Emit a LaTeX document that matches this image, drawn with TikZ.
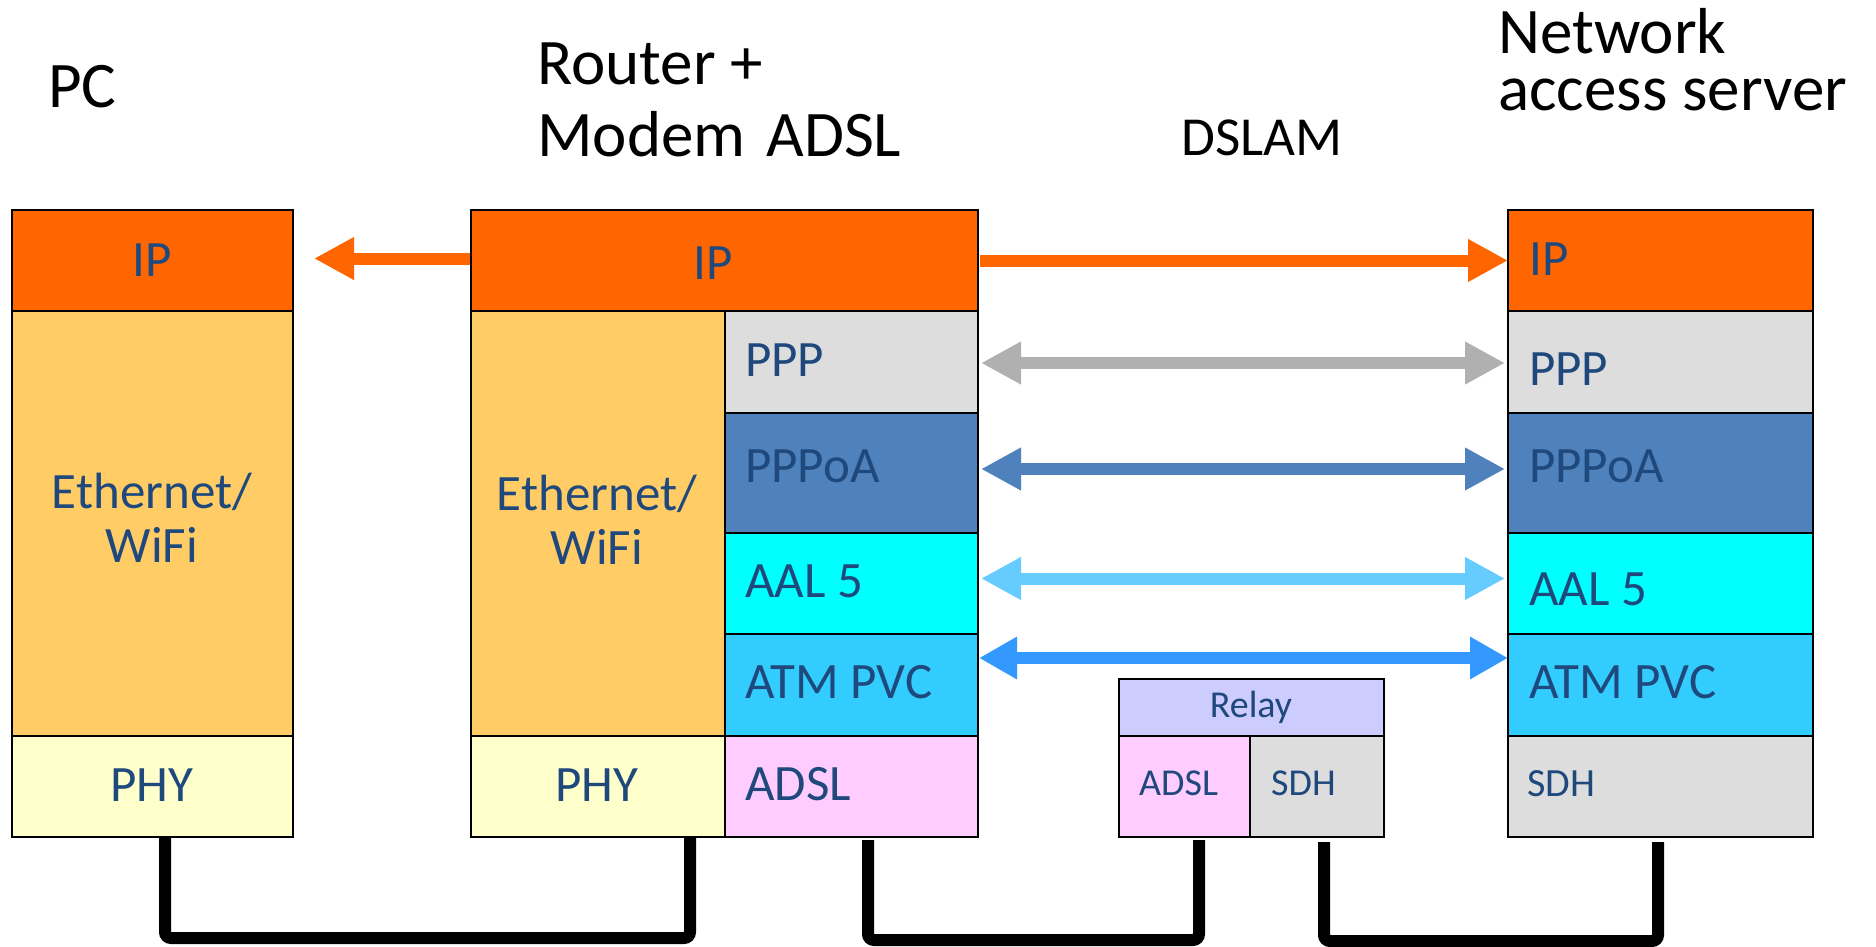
\documentclass[tikz,border=0pt]{standalone}
\usepackage{fontspec}
\setmainfont{Carlito}
\usetikzlibrary{arrows.meta,calc}
\definecolor{ipor}{HTML}{FF6600}
\definecolor{ethc}{HTML}{FFCC66}
\definecolor{phyc}{HTML}{FFFFCC}
\definecolor{pppc}{HTML}{DDDDDD}
\definecolor{pppoac}{HTML}{4F81BD}
\definecolor{aalc}{HTML}{00FFFF}
\definecolor{atmc}{HTML}{33CCFF}
\definecolor{adslc}{HTML}{FFCCFF}
\definecolor{relayc}{HTML}{CCCCFF}
\definecolor{lblue}{HTML}{1F497D}
\definecolor{grayarr}{HTML}{B0B0B0}
\definecolor{aalarr}{HTML}{66CCFF}
\definecolor{atmarr}{HTML}{3399FF}
\begin{document}
\begin{tikzpicture}[x=1pt,y=-1pt,
  layer/.style={draw=black, line width=2.5pt, outer sep=0pt, inner sep=0pt, anchor=north west},
  lbl/.style={text=lblue, font=\fontsize{51}{54}\selectfont, inner sep=0pt},
  small/.style={text=lblue, font=\fontsize{38}{44}\selectfont, inner sep=0pt},
  title/.style={text=black, inner sep=0pt, align=left},
  conn/.style={line width=12pt, -{Triangle[length=40pt,width=40pt]}},
  dconn/.style={line width=12pt, {Triangle[length=40pt,width=40pt]}-{Triangle[length=40pt,width=40pt]}, shorten <=3pt, shorten >=3pt},
  cable/.style={line width=12pt, rounded corners=6pt}
]
\useasboundingbox (0,0) rectangle (1876,947);

% ---------- titles ----------
\node[title, anchor=base west, font=\fontsize{65}{72}\selectfont] (tpc) at (48,108) {PC};
\node[title, anchor=base west, font=\fontsize{65}{72}\selectfont] (trouter) at (537,157) {Router +\\Modem\hspace{21pt}ADSL};
\node[title, anchor=base west, font=\fontsize{55}{60}\selectfont] (tdslam) at (1181,155) {DSLAM};
\node[title, anchor=base west, font=\fontsize{65}{58}\selectfont] (tnas) at (1498,111) {Network\\access server};

% ---------- PC ----------
\node[layer, fill=ipor, minimum width=281pt, minimum height=101pt] (pcip) at (12,210) {};
\node[layer, fill=ethc, minimum width=281pt, minimum height=425pt] (pceth) at (12,311) {};
\node[layer, fill=phyc, minimum width=281pt, minimum height=101pt] (pcphy) at (12,736) {};
\node[lbl, anchor=base] (lpcip) at (152,276) {IP};
\node[lbl, anchor=base, align=center] (lpceth) at (152,562) {Ethernet/\\WiFi};
\node[lbl, anchor=base] (lpcphy) at (152,801) {PHY};

% ---------- Router + modem ----------
\node[layer, fill=ipor, minimum width=507pt, minimum height=101pt] (rip) at (471,210) {};
\node[layer, fill=ethc, minimum width=254pt, minimum height=425pt] (reth) at (471,311) {};
\node[layer, fill=phyc, minimum width=254pt, minimum height=101pt] (rphy) at (471,736) {};
\node[layer, fill=pppc, minimum width=253pt, minimum height=102pt] (rppp) at (725,311) {};
\node[layer, fill=pppoac, minimum width=253pt, minimum height=120pt] (rpppoa) at (725,413) {};
\node[layer, fill=aalc, minimum width=253pt, minimum height=101pt] (raal) at (725,533) {};
\node[layer, fill=atmc, minimum width=253pt, minimum height=102pt] (ratm) at (725,634) {};
\node[layer, fill=adslc, minimum width=253pt, minimum height=101pt] (radsl) at (725,736) {};
\node[lbl, anchor=base] (lrip) at (713,279) {IP};
\node[lbl, anchor=base, align=center] (lreth) at (597,564) {Ethernet/\\WiFi};
\node[lbl, anchor=base] (lrphy) at (597,801) {PHY};
\node[lbl, anchor=base west] (lrppp) at (745,376) {PPP};
\node[lbl, anchor=base west] (lrpppoa) at (745,482) {PPPoA};
\node[lbl, anchor=base west] (lraal) at (745,597) {AAL 5};
\node[lbl, anchor=base west] (lratm) at (745,698) {ATM PVC};
\node[lbl, anchor=base west] (lradsl) at (745,800) {ADSL};

% ---------- DSLAM ----------
\node[layer, fill=relayc, minimum width=265pt, minimum height=57pt] (relay) at (1119,679) {};
\node[layer, fill=adslc, minimum width=131pt, minimum height=101pt] (dadsl) at (1119,736) {};
\node[layer, fill=pppc, minimum width=134pt, minimum height=101pt] (dsdh) at (1250,736) {};
\node[small, anchor=base] (lrelay) at (1251,717) {Relay};
\node[small, anchor=base west] (ldadsl) at (1139,795) {ADSL};
\node[small, anchor=base west] (ldsdh) at (1271,795) {SDH};

% ---------- Network access server ----------
\node[layer, fill=ipor, minimum width=305pt, minimum height=101pt] (nip) at (1508,210) {};
\node[layer, fill=pppc, minimum width=305pt, minimum height=102pt] (nppp) at (1508,311) {};
\node[layer, fill=pppoac, minimum width=305pt, minimum height=120pt] (npppoa) at (1508,413) {};
\node[layer, fill=aalc, minimum width=305pt, minimum height=101pt] (naal) at (1508,533) {};
\node[layer, fill=atmc, minimum width=305pt, minimum height=102pt] (natm) at (1508,634) {};
\node[layer, fill=pppc, minimum width=305pt, minimum height=101pt] (nsdh) at (1508,736) {};
\node[lbl, anchor=base west] (lnip) at (1529,275) {IP};
\node[lbl, anchor=base west] (lnppp) at (1529,385) {PPP};
\node[lbl, anchor=base west] (lnpppoa) at (1529,482) {PPPoA};
\node[lbl, anchor=base west] (lnaal) at (1529,605) {AAL 5};
\node[lbl, anchor=base west] (lnatm) at (1529,698) {ATM PVC};
\node[small, anchor=base west, font=\fontsize{40}{46}\selectfont] (lnsdh) at (1527,796) {SDH};

% ---------- peer arrows ----------
\draw[conn, ipor, shorten <=1.5pt] ($(rip.west)+(0,-2)$) -- ($(pcip.east)+(21,-2)$);
\draw[conn, ipor, shorten <=1.5pt] (rip.east) -- (nip.west);
\draw[dconn, grayarr] ($(rppp.east)+(0,1)$) -- ($(nppp.west)+(0,1)$);
\draw[dconn, pppoac] ($(rpppoa.east)+(0,-4)$) -- ($(npppoa.west)+(0,-4)$);
\draw[dconn, aalarr] ($(raal.east)+(0,-5)$) -- ($(naal.west)+(0,-5)$);
\draw[line width=12pt, atmarr, {Triangle[length=38pt,width=40pt]}-{Triangle[length=38pt,width=40pt]}, shorten <=1pt]
  ($(ratm.east)+(0,-27)$) -- ($(natm.west)+(0,-27)$);

% ---------- physical cables ----------
\draw[cable] (pcphy.south -| 165,0) -- (165,938) -- (690,938) -- (rphy.south -| 690,0);
\draw[cable] ($(radsl.south -| 868,0)+(0,3)$) -- (868,940) -- (1199,940) -- ($(dadsl.south -| 1199,0)+(0,3)$);
\draw[cable] ($(dsdh.south -| 1324,0)+(0,5)$) -- (1324,941) -- (1658,941) -- ($(nsdh.south -| 1658,0)+(0,5)$);
\end{tikzpicture}
\end{document}
